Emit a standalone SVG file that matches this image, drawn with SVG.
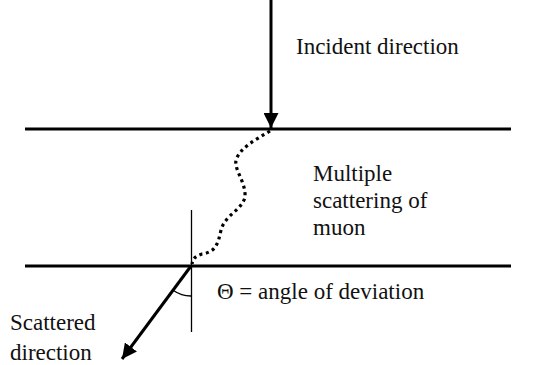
<svg xmlns="http://www.w3.org/2000/svg" width="536" height="365" viewBox="0 0 536 365">
<defs>
<style>
.lbl{font-family:'Liberation Serif','Times New Roman','DejaVu Serif',serif;font-size:23px;fill:#111}
.thick{stroke:#000;stroke-width:3;fill:none}
.thin{stroke:#000;stroke-width:1.3;fill:none}
</style>
<marker id="ah" viewBox="0 0 10 10" refX="10" refY="5" markerWidth="5" markerHeight="5" orient="auto" markerUnits="strokeWidth">
<path d="M0,0 L10,5 L0,10 z" fill="#000"/>
</marker>
</defs>
<rect width="536" height="365" fill="#fff"/>
<g id="layers">
<line class="thick" x1="25" y1="129" x2="511" y2="129"/>
<line class="thick" x1="25" y1="266" x2="511" y2="266"/>
</g>
<g id="connectors">
<line class="thick" x1="271" y1="0" x2="271" y2="128" marker-end="url(#ah)"/>
<path d="M270,131 C255,140 240,148 236,160 C234,170 246,182 245,197 C242,210 225,215 221,230 C218,245 215,252 202,254 C196,256 193,258 192,264" fill="none" stroke="#000" stroke-width="3.2" stroke-dasharray="3,3.6"/>
<line class="thin" x1="191.5" y1="210" x2="191.5" y2="332"/>
<line class="thick" x1="191" y1="266" x2="122" y2="359" marker-end="url(#ah)"/>
<path class="thin" d="M173.5,290.5 A30,30 0 0 0 191.5,296"/>
</g>
<g id="labels" class="lbl" font-family="'Liberation Serif', 'Times New Roman', 'DejaVu Serif', serif">
<text class="lbl" x="296" y="54">Incident direction</text>
<text class="lbl" x="313" y="181">Multiple</text>
<text class="lbl" x="313" y="208">scattering of</text>
<text class="lbl" x="313" y="235">muon</text>
<text class="lbl" x="217" y="299">Θ = angle of deviation</text>
<text class="lbl" x="10" y="330">Scattered</text>
<text class="lbl" x="10" y="360">direction</text>
</g>
</svg>
